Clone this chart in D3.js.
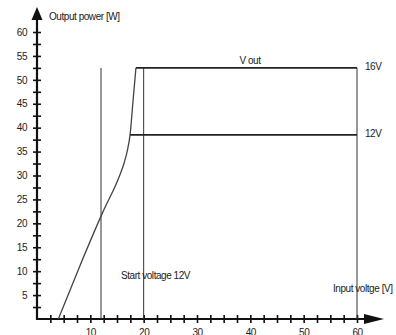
<!DOCTYPE html>
<html>
<head>
<meta charset="utf-8">
<script src="https://cdn.jsdelivr.net/npm/d3@7/dist/d3.min.js"></script>
<style>
  html, body { margin: 0; padding: 0; background: #fff; }
  svg { display: block; }
  text { font-family: "Liberation Sans", Arial, sans-serif; font-size: 10px; letter-spacing: -0.45px; fill: #222; }
</style>
</head>
<body>
<svg id="chart" width="396" height="335"></svg>
<script>
// Input voltage (V) vs. output power (W) of the converter
const xTickValues = [10, 20, 30, 40, 50, 60];
const yTickValues = [5, 10, 15, 20, 25, 30, 35, 40, 45, 50, 55, 60];

// power ramp while the input voltage rises
const rampVoltage = [4, 8, 12.4, 15.5, 16.3, 17.0, 17.45, 18.0, 18.55];
const rampPower   = [0, 11, 22.5, 30, 32.5, 35.5, 38.5, 45.5, 52.5];

// output voltage levels: label, power ceiling, voltage where the ceiling begins
const levelLabels = ["16V", "12V"];
const levelPower  = [52.5, 38.5];
const levelStart  = [18.55, 17.45];

// vertical reference voltages
const startVoltage = 12;
const markerVoltage = 20;
const maxVoltage = 60;

const svg = d3.select("#chart");
const x = d3.scaleLinear().domain([0, 60]).range([37, 357]);
const y = d3.scaleLinear().domain([0, 60]).range([319, 32]);

const minorX = d3.range(2.5, 60.01, 2.5);
const minorY = d3.range(2.5, 60.01, 2.5);

// axes: ticks cross the axis line, so draw an outward and an inward set
const yAxisOut = d3.axisLeft(y).tickValues(minorY).tickSize(4).tickSizeOuter(0).tickPadding(6)
  .tickFormat(d => yTickValues.includes(d) ? d : "");
const yAxisIn = d3.axisRight(y).tickValues(minorY).tickSize(4).tickSizeOuter(0).tickFormat("");
const xAxisOut = d3.axisBottom(x).tickValues(minorX).tickSize(4).tickSizeOuter(0).tickPadding(6)
  .tickFormat(d => xTickValues.includes(d) ? d : "");
const xAxisIn = d3.axisTop(x).tickValues(minorX).tickSize(4).tickSizeOuter(0).tickFormat("");

function styleAxis(g) {
  g.select(".domain").remove();
  g.selectAll(".tick line").attr("stroke", "#111").attr("stroke-width", 1.6);
  g.selectAll(".tick text").attr("font-size", null).attr("font-family", null).attr("fill", "#333");
}
svg.append("g").attr("transform", `translate(${x(0)},0)`).call(yAxisOut).call(styleAxis);
svg.append("g").attr("transform", `translate(${x(0)},0)`).call(yAxisIn).call(styleAxis);
svg.append("g").attr("transform", `translate(0,${y(0)})`).call(xAxisOut).call(styleAxis);
svg.append("g").attr("transform", `translate(0,${y(0)})`).call(xAxisIn).call(styleAxis);

// axis lines with arrow heads
svg.append("line").attr("x1", x(0)).attr("y1", y(0) + 1).attr("x2", x(0)).attr("y2", 18)
  .attr("stroke", "#111").attr("stroke-width", 2.2);
svg.append("line").attr("x1", x(0) - 1).attr("y1", y(0)).attr("x2", 366).attr("y2", y(0))
  .attr("stroke", "#111").attr("stroke-width", 2.2);
svg.append("path").attr("d", `M${x(0)},7 L${x(0) - 5.5},20 L${x(0) + 5.5},20 Z`).attr("fill", "#111");
svg.append("path").attr("d", `M384,${y(0)} L364,${y(0) - 5} L364,${y(0) + 5} Z`).attr("fill", "#111");

// vertical reference lines
const topPower = levelPower[0];
svg.append("line").attr("x1", x(startVoltage)).attr("x2", x(startVoltage))
  .attr("y1", y(0)).attr("y2", y(topPower)).attr("stroke", "#333").attr("stroke-width", 1);
svg.append("line").attr("x1", x(markerVoltage)).attr("x2", x(markerVoltage))
  .attr("y1", y(0)).attr("y2", y(topPower)).attr("stroke", "#333").attr("stroke-width", 1);
svg.append("line").attr("x1", x(maxVoltage)).attr("x2", x(maxVoltage))
  .attr("y1", y(0)).attr("y2", y(topPower)).attr("stroke", "#333").attr("stroke-width", 1);

// power ramp
const ramp = rampVoltage.map((v, i) => [v, rampPower[i]]);
svg.append("path")
  .datum(ramp)
  .attr("d", d3.line().x(d => x(d[0])).y(d => y(d[1])).curve(d3.curveMonotoneX))
  .attr("fill", "none").attr("stroke", "#444").attr("stroke-width", 1.3);

// output level lines and labels
levelLabels.forEach((lab, i) => {
  svg.append("line")
    .attr("x1", x(levelStart[i])).attr("x2", x(maxVoltage))
    .attr("y1", y(levelPower[i])).attr("y2", y(levelPower[i]))
    .attr("stroke", "#222").attr("stroke-width", 1.8);
  svg.append("text").attr("x", 365).attr("y", y(levelPower[i]) + 2).text(lab);
});

// annotations
svg.append("text").attr("x", 49).attr("y", 20).text("Output power [W]");
svg.append("text").attr("x", 250).attr("y", 64).attr("text-anchor", "middle").text("V out");
svg.append("text").attr("x", 121).attr("y", 279).text("Start voltage 12V");
svg.append("text").attr("x", 333).attr("y", 292).text("Input voltge [V]");
</script>
</body>
</html>
